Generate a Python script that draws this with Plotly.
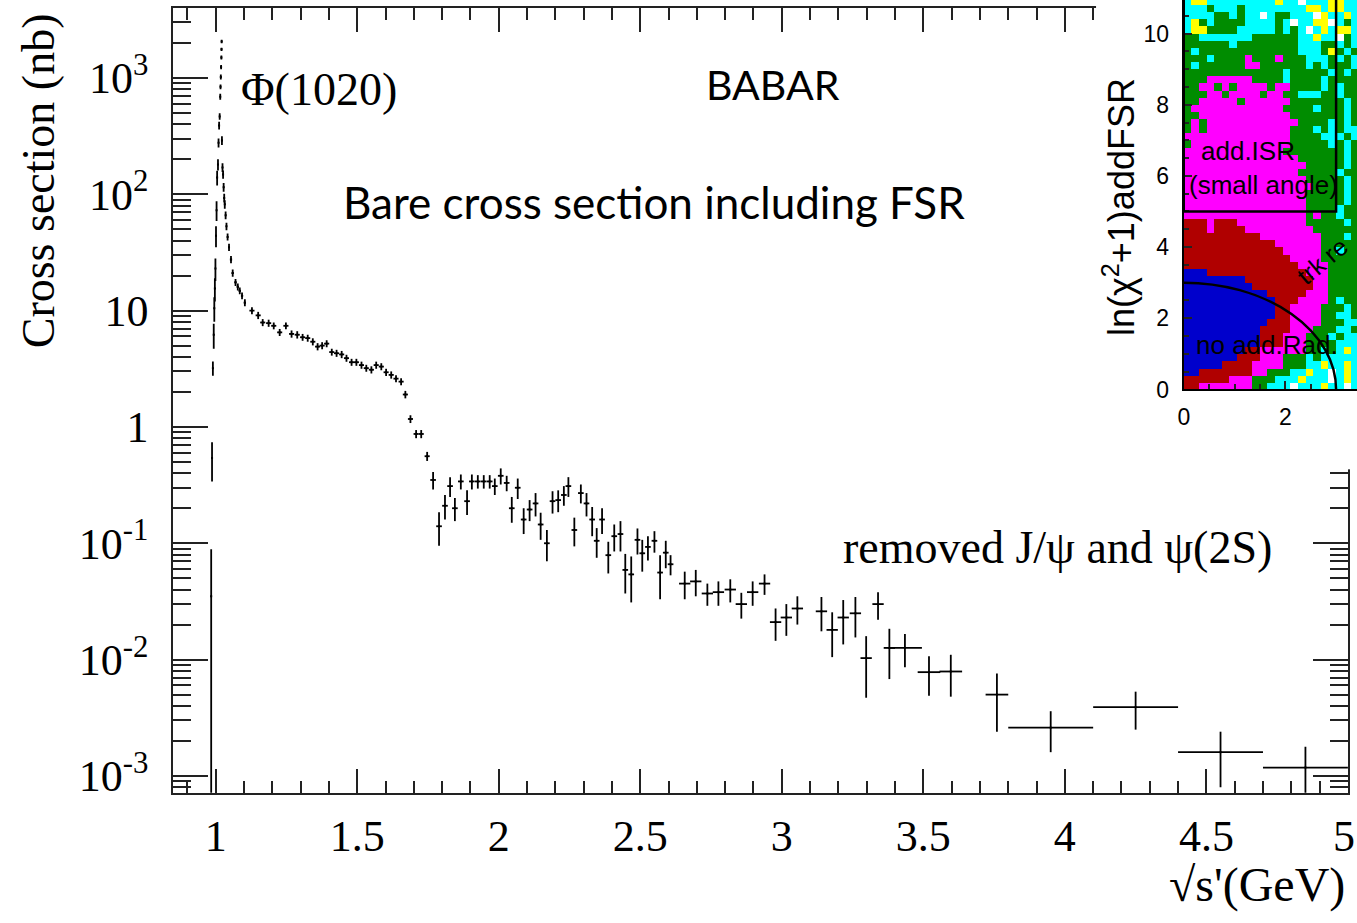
import plotly.graph_objects as go

# ---------------- main data (sqrt(s') in GeV, cross section in nb) ----------------
x_vals = [0.984, 0.987, 0.990, 0.993, 0.995, 0.997, 0.999, 1.001, 1.003, 1.005,
          1.008, 1.010, 1.012, 1.014, 1.016, 1.017, 1.018, 1.019, 1.020, 1.0205, 1.021,
          1.022, 1.024, 1.026, 1.028, 1.030, 1.032, 1.035, 1.038, 1.042, 1.047,
          1.054, 1.060, 1.070, 1.078, 1.085, 1.093, 1.103,
          1.128, 1.150, 1.166, 1.187, 1.205, 1.226, 1.248, 1.268, 1.288, 1.307,
          1.325, 1.343, 1.360, 1.376, 1.392, 1.410, 1.427, 1.445, 1.462, 1.480,
          1.497, 1.515, 1.532, 1.550, 1.567, 1.585, 1.602, 1.620, 1.637, 1.655,
          1.670, 1.688, 1.708, 1.726, 1.747,
          1.768, 1.789, 1.810, 1.828, 1.845, 1.866, 1.888, 1.905, 1.926, 1.947,
          1.968, 1.986, 2.007, 2.028, 2.046, 2.067, 2.088, 2.109, 2.130, 2.148,
          2.170, 2.190, 2.210, 2.230, 2.246, 2.267, 2.290, 2.310, 2.330, 2.346,
          2.365, 2.387, 2.408, 2.430, 2.447, 2.468, 2.490, 2.507, 2.527, 2.550,
          2.570, 2.590, 2.607,
          2.657, 2.696, 2.737, 2.776, 2.818, 2.857, 2.897, 2.939, 2.978, 3.016,
          3.055, 3.140, 3.178, 3.217, 3.260, 3.298, 3.340, 3.380,
          3.435, 3.520, 3.597, 3.760, 3.950, 4.250, 4.550, 4.850]

y_vals = [0.035, 0.54, 3.2, 6.2, 10.5, 15.5, 23, 44, 73, 139,
          180, 277, 390, 467, 690, 840, 1020, 1240, 1500, 1760, 2060,
          290, 170, 148, 115, 93, 82, 66, 53, 43, 35,
          27.5, 21, 17.5, 16, 14.8, 13.4, 11.7,
          10.0, 9.1, 7.9, 7.8, 7.4, 6.5, 7.4, 6.3, 6.2, 5.9,
          5.8, 5.4, 4.9, 5.0, 5.2, 4.4, 4.3, 4.2, 3.9, 3.6,
          3.6, 3.4, 3.2, 3.1, 3.4, 3.3, 2.95, 2.8, 2.6, 2.45,
          1.9, 1.17, 0.87, 0.87, 0.56,
          0.35, 0.14, 0.21, 0.31, 0.20, 0.34, 0.23, 0.34, 0.34, 0.34,
          0.34, 0.31, 0.38, 0.33, 0.20, 0.30, 0.16, 0.195, 0.22, 0.145,
          0.10, 0.23, 0.235, 0.26, 0.31, 0.13, 0.27, 0.22, 0.16, 0.105,
          0.16, 0.079, 0.115, 0.12, 0.059, 0.054, 0.107, 0.082, 0.093, 0.105,
          0.056, 0.083, 0.066,
          0.045, 0.047, 0.037, 0.038, 0.040, 0.030, 0.038, 0.045, 0.021, 0.023,
          0.0275, 0.026, 0.018, 0.023, 0.025, 0.0103, 0.030, 0.0126,
          0.0126, 0.0078, 0.0079, 0.0050, 0.0026, 0.0039, 0.0016, 0.00118]

y_errs = [0.054, 0.2, 0.45, 1.5, 2.5, 3.5, 5, 9, 14, 20,
          20, 25, 30, 30, 40, 40, 50, 50, 60, 60, 70,
          25, 15, 12, 10, 8, 7, 5, 4, 3, 2.5,
          2, 1.5, 1.2, 1.1, 1.0, 0.9, 0.8,
          0.7, 0.65, 0.55, 0.55, 0.5, 0.45, 0.5, 0.45, 0.45, 0.4,
          0.4, 0.38, 0.35, 0.35, 0.36, 0.3, 0.3, 0.3, 0.27, 0.25,
          0.25, 0.24, 0.22, 0.22, 0.24, 0.23, 0.21, 0.2, 0.18, 0.17,
          0.14, 0.09, 0.07, 0.07, 0.05,
          0.06, 0.045, 0.05, 0.06, 0.045, 0.05, 0.055, 0.05, 0.045, 0.045,
          0.045, 0.05, 0.06, 0.05, 0.05, 0.06, 0.04, 0.04, 0.05, 0.038,
          0.03, 0.05, 0.05, 0.05, 0.06, 0.036, 0.05, 0.05, 0.045, 0.03,
          0.04, 0.024, 0.03, 0.035, 0.022, 0.023, 0.027, 0.025, 0.022, 0.022,
          0.023, 0.022, 0.013,
          0.012, 0.012, 0.008, 0.009, 0.009, 0.0075, 0.009, 0.009, 0.0065, 0.007,
          0.0075, 0.0085, 0.0075, 0.0095, 0.0095, 0.0056, 0.008, 0.0058,
          0.004, 0.0029, 0.0031, 0.0026, 0.0010, 0.0014, 0.0008, 0.0006]

x_errs = ([0.0015] * 21 + [0.002] * 10 + [0.004] * 7 + [0.009] * 35 +
          [0.01] * 43 + [0.02] * 18 + [0.06, 0.04, 0.04, 0.04, 0.15, 0.15, 0.15, 0.15])

x_tick_vals = [1, 1.5, 2, 2.5, 3, 3.5, 4, 4.5, 5]
x_tick_text = ["1", "1.5", "2", "2.5", "3", "3.5", "4", "4.5", ""]
x_last_label = "5"   # drawn separately so it stays inside the page edge
y_tick_vals = [1e-3, 1e-2, 1e-1, 1, 10, 100, 1000]
y_tick_text = ["10<sup>-3</sup>", "10<sup>-2</sup>", "10<sup>-1</sup>", "1", "10",
               "10<sup>2</sup>", "10<sup>3</sup>"]

# ---------------- inset data: colour class per cell (top row first) ----------------
inset_rows = [
    "cyycccccccccyccwcccyycc",
    "cccgcccgccccccccyycyycc",
    "ccccggcgccwcggcccwyccyc",
    "cygcggggccccgcwccyywcgc",
    "cyyggggcccccgcgcwcycyyc",
    "ggcccccccggggggccyccwgc",
    "ggggggcggggggggcccggcgc",
    "gcgggggggggggggcccgygcg",
    "gggcggggmgggmgggcccgcgc",
    "gcggggggmmggggggcgcgggc",
    "gggggggggggggcgggggcgcg",
    "gggmmmmmmggggcggggcgggg",
    "ggmmgmgmmmmgmmggggcgcgg",
    "gggmmgmmmmgmmggcccggcgg",
    "ggmmmmmgmmmmmmgggggggcg",
    "gmmmmmmmmmmmmggggcgggcg",
    "ggmmmmmmmmmmmmgggggggcg",
    "gmgmmmmmmmmmmmmggggcgcg",
    "gmgmmmmmmmmmmmgggcgcgcc",
    "mmmmmmmmmmmmmmggggcccgc",
    "gmmmmmmmmmmmmmgggggcgcg",
    "mmmmmmmmmmmmmggggggggcg",
    "mmmmmmmmmmmmmmmggggggcg",
    "mmmmmmmmmmmmmmmmgggggcg",
    "mmmmmmmmmmmmmmmgggggcgg",
    "mmmmmmmmmmmmmmmmgggggcg",
    "mmmmmmmmmmmmmmmmmggggcg",
    "mmmmmmmmmmmmmmmmgggggcg",
    "mmmmmmmmmmmmmmmmgggggcg",
    "mmmmmmmmmmmmmmmmggggcgg",
    "mmmmmmmmmmmmmmmmgmggcgg",
    "rrrmrrrmmmmmmmmmgggggcg",
    "rrrmrrrrmmmmmmmmmgggggg",
    "rrrrrrrrrrmmmmmmmmgggcg",
    "rrrrrrrrrrrrmmmmmmggggg",
    "rrrrrrrrrrrrrmmmmmggcgg",
    "rrrrrrrrrrrrrrmmmmggggg",
    "rrrrrrrrrrrrrrrmmmmgggg",
    "bbbrrrrrrrrrrrrrmmmgggg",
    "bbbbbbbbrrrrrrrrrmmgggg",
    "bbbbbbbbbrrrrrrrrmmgggg",
    "bbbbbbbbbbbrrrrrmmmgggg",
    "bbbbbbbbbbbbrrrmmmmgcgg",
    "bbbbbbbbbbbbrrmmmmgggcg",
    "bbbbbbbbbbbbrrmmmmggccg",
    "bbbbbbbbbbbrrrmmmmgggcc",
    "bbbbbbbbbbrrrrmmmgggccg",
    "bbbbbbbbbbrrrmmmgggcgcc",
    "bbbbbbbbbbrrrmmmggggccc",
    "bbbbbbbbrrmmmmmmggcgcyc",
    "bbbbbbbrrrmmmgggcgccccc",
    "bbbbbrrrrmmmmgggccyccyc",
    "bbrrrrrrrmmgggccyccwcyc",
    "rrrrrrmmmgggcccycccwcyc",
    "rrmmmmmmmggcccwcccyccwc",
]
inset_classes = ["w", "y", "c", "g", "m", "r", "b"]
inset_colors = ["#ffffff", "#ffff00", "#00ffff", "#008c00", "#ff00ff", "#b00000", "#0000cc"]
inset_x_centers = [0.075 + 0.15 * j for j in range(23)]
inset_y_centers = [0.1 + 0.2 * i for i in range(len(inset_rows))]

# ---------------- helpers for pixel layout ----------------
W, H = 1357, 923


def px(xp):
    return xp / W


def py(yp):
    return 1 - yp / H


SERIF = "Liberation Serif"
SANS = "Liberation Sans"
AXC = "#222222"

fig = go.Figure()

# main data: crosses made of error bars
fig.add_trace(go.Scatter(
    x=x_vals, y=y_vals, mode="markers",
    marker=dict(size=2, color="black", symbol="square"),
    error_y=dict(type="data", array=y_errs, visible=True, color="black", thickness=1.8, width=0),
    error_x=dict(type="data", array=x_errs, visible=True, color="black", thickness=1.8, width=0),
    xaxis="x", yaxis="y", showlegend=False, hoverinfo="x+y", cliponaxis=True,
))

# empty trace for the white cover subplot
fig.add_trace(go.Scatter(x=[None], y=[None], xaxis="x2", yaxis="y2", showlegend=False,
                         hoverinfo="skip", mode="markers"))

# inset heatmap
z = []
for row in reversed(inset_rows):
    z.append([inset_classes.index(ch) for ch in row])
n = len(inset_classes)
cscale = []
for k, col in enumerate(inset_colors):
    cscale.append([k / n, col])
    cscale.append([(k + 1) / n, col])
fig.add_trace(go.Heatmap(
    x=inset_x_centers, y=inset_y_centers, z=z, xaxis="x3", yaxis="y3",
    colorscale=cscale, zmin=-0.5, zmax=n - 0.5, showscale=False, hoverinfo="skip",
))

fig.update_layout(
    width=W, height=H, margin=dict(l=0, r=0, t=0, b=0),
    paper_bgcolor="white", plot_bgcolor="white", showlegend=False,
    xaxis=dict(
        domain=[px(168), px(1348)], range=[0.85, 5.0005], anchor="y",
        showline=True, linecolor=AXC, linewidth=2, mirror="allticks",
        ticks="inside", ticklen=24, tickwidth=2, tickcolor=AXC,
        tickmode="array", tickvals=x_tick_vals, ticktext=x_tick_text,
        tickfont=dict(family=SERIF, size=44, color="black"), ticklabelstandoff=4,
        minor=dict(ticks="inside", ticklen=12, tickwidth=2, tickcolor=AXC, tick0=0, dtick=0.1),
        showgrid=False, zeroline=False,
    ),
    yaxis=dict(
        type="log", domain=[py(804), py(8)], range=[-3.144, 3.602], anchor="x",
        showline=True, linecolor=AXC, linewidth=2, mirror="allticks",
        ticks="inside", ticklen=35, tickwidth=2, tickcolor=AXC,
        tickmode="array", tickvals=y_tick_vals, ticktext=y_tick_text,
        tickfont=dict(family=SERIF, size=44, color="black"), ticklabelstandoff=14,
        minor=dict(ticks="inside", ticklen=18, tickwidth=2, tickcolor=AXC, dtick="D1"),
        showgrid=False, zeroline=False,
    ),
    xaxis2=dict(domain=[px(1095), 1.0], range=[0, 1], anchor="y2", visible=False, fixedrange=True),
    yaxis2=dict(domain=[py(476), 1.0], range=[0, 1], anchor="x2", visible=False, fixedrange=True),
    xaxis3=dict(
        domain=[px(1183), 1.0], range=[0, 174 / 51], anchor="y3",
        showline=True, linecolor="black", linewidth=2, mirror=False,
        ticks="inside", ticklen=8, tickwidth=1.5, tickcolor=AXC,
        tickmode="array", tickvals=[0, 2, 4], ticktext=["0", "2", "4"],
        tickfont=dict(family=SANS, size=23, color="black"), ticklabelstandoff=6,
        minor=dict(ticks="inside", ticklen=5, tickwidth=1.5, tickcolor=AXC, tick0=0, dtick=0.5),
        showgrid=False, zeroline=False,
    ),
    yaxis3=dict(
        domain=[py(395), 1.0], range=[0, 395 / 36.1], anchor="x3",
        showline=True, linecolor="black", linewidth=2, mirror=False,
        ticks="inside", ticklen=8, tickwidth=1.5, tickcolor=AXC,
        tickmode="array", tickvals=[0, 2, 4, 6, 8, 10], ticktext=["0", "2", "4", "6", "8", "10"],
        tickfont=dict(family=SANS, size=23, color="black"), ticklabelstandoff=8,
        minor=dict(ticks="inside", ticklen=5, tickwidth=1.5, tickcolor=AXC, tick0=0, dtick=0.5),
        showgrid=False, zeroline=False,
    ),
)

# white cover for the pasted inset (drawn inside the cover subplot, above the main axes)
fig.add_shape(type="rect", xref="x2", yref="y2", x0=0, x1=1, y0=0, y1=1,
              fillcolor="white", line=dict(width=0), layer="below")
# inset selection boundaries
fig.add_shape(type="rect", xref="x3", yref="y3", x0=0, x1=3, y0=5, y1=12,
              line=dict(color="black", width=2.5), layer="above")
fig.add_shape(type="circle", xref="x3", yref="y3", x0=-3, x1=3, y0=-3, y1=3,
              line=dict(color="black", width=2.5), layer="above")

annos = [
    dict(text="Cross section (nb)", x=px(33), y=py(183), textangle=-90,
         font=dict(family=SERIF, size=46)),
    dict(text="√s'(GeV)", x=px(1347), y=py(898), xanchor="right",
         font=dict(family=SERIF, size=48)),
    dict(text=x_last_label, x=px(1357), y=py(848), xanchor="right",
         font=dict(family=SERIF, size=44)),
    dict(text="Φ(1020)", x=px(234), y=py(91), xanchor="left",
         font=dict(family=SERIF, size=46)),
    dict(text="BABAR", x=px(770), y=py(86), font=dict(family="Lato", size=41)),
    dict(text="Bare cross section including FSR", x=px(651), y=py(205),
         font=dict(family="Lato", size=44)),
    dict(text="removed J/ψ and ψ(2S)", x=px(1056), y=py(555),
         font=dict(family=SERIF, size=46)),
    dict(text="ln(χ<sup>2</sup>+1)addFSR", x=px(1118), y=py(210), textangle=-90,
         font=dict(family=SANS, size=36)),
    dict(text="add.ISR", x=px(1248), y=py(153), font=dict(family=SANS, size=26)),
    dict(text="(small angle)", x=px(1263), y=py(188), font=dict(family=SANS, size=26)),
    dict(text="no add.Rad.", x=px(1267), y=py(350), font=dict(family=SANS, size=26)),
    dict(text="trk re", x=px(1322), y=py(265), textangle=-40, font=dict(family=SANS, size=25)),
]
for a in annos:
    a.setdefault("xanchor", "center")
    a.setdefault("yanchor", "middle")
    a["font"].setdefault("color", "black")
    fig.add_annotation(xref="paper", yref="paper", showarrow=False, **a)

fig.write_html("out.html")
